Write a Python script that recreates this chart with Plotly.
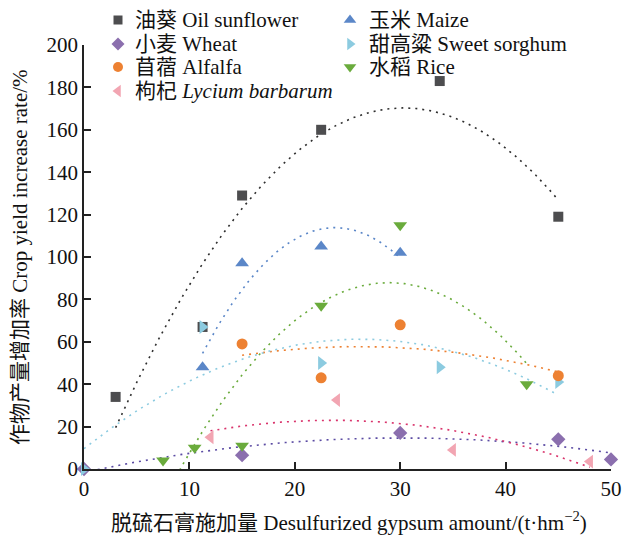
import numpy as np
import plotly.graph_objects as go

# Gypsum dose (t/hm2) and crop yield increase (%) per crop
sunflower_x = [3, 11.25, 15, 22.5, 33.75, 45]
sunflower_y = [34, 67, 129, 160, 183, 119]
maize_x = [11.25, 15, 22.5, 30]
maize_y = [48, 97, 105, 102]
wheat_x = [0, 15, 30, 45, 50]
wheat_y = [0, 6.5, 17, 14, 4.5]
sorghum_x = [0, 11.25, 22.5, 33.75, 45]
sorghum_y = [0, 67, 50, 48, 41]
alfalfa_x = [15, 22.5, 30, 45]
alfalfa_y = [59, 43, 68, 44]
rice_x = [7.5, 10.5, 15, 22.5, 30, 42]
rice_y = [4, 10, 11, 77, 115, 40]
lycium_x = [12, 24, 35, 48]
lycium_y = [15, 32.5, 9, 3.5]

x_ticks = [0, 10, 20, 30, 40, 50]
y_ticks = [0, 20, 40, 60, 80, 100, 120, 140, 160, 180, 200]

SERIF = "Liberation Serif, 'Times New Roman', 'Noto Sans CJK SC', serif"
FS = 21
W, H = 622, 536

# name, x, y, symbol, marker colour, trend colour, key column, key row
series = [
    ("油葵 Oil sunflower", sunflower_x, sunflower_y, "square", "#4d4d4f", "#2e2e2e", 0, 0),
    ("小麦 Wheat", wheat_x, wheat_y, "diamond", "#8b6fae", "#5b4ba3", 0, 1),
    ("苜蓿 Alfalfa", alfalfa_x, alfalfa_y, "circle", "#ed8132", "#ed8132", 0, 2),
    ("枸杞 <i>Lycium barbarum</i>", lycium_x, lycium_y, "triangle-left", "#f2a5b2", "#d9336b", 0, 3),
    ("玉米 Maize", maize_x, maize_y, "triangle-up", "#5b87c8", "#5b87c8", 1, 0),
    ("甜高粱 Sweet sorghum", sorghum_x, sorghum_y, "triangle-right", "#8ccbe0", "#8ccbe0", 1, 1),
    ("水稻 Rice", rice_x, rice_y, "triangle-down", "#6aab3c", "#6aab3c", 1, 2),
]
sizes = {"square": 10, "diamond": 11, "circle": 11}
TRI = 12

fig = go.Figure()

# Quadratic trend lines (dotted), fitted over each series' dose range
for name, xs, ys, sym, mc, tc, col, row in series:
    coef = np.polyfit(xs, ys, 2)
    xf = np.linspace(min(xs), max(xs), 200)
    fig.add_trace(go.Scatter(
        x=xf, y=np.polyval(coef, xf), mode="lines",
        line=dict(color=tc, width=1.6, dash="2px,5px"),
        hoverinfo="skip", showlegend=False,
    ))

# Observed points
order = [0, 4, 1, 5, 2, 6, 3]
for i in order:
    name, xs, ys, sym, mc, tc, col, row = series[i]
    fig.add_trace(go.Scatter(
        x=xs, y=ys, mode="markers", name=name,
        marker=dict(symbol=sym, size=sizes.get(sym, TRI), color=mc),
        cliponaxis=False, showlegend=False,
    ))

# Plot area in pixels; a full-page axis pair (x3/y3) uses pixel units
PLOT_L, PLOT_R, PLOT_T, PLOT_B = 84, 611, 45, 469

# Key: two columns of marker + label
col_marker = [118, 350]
col_text = [133, 367]
row_y = [20, 44, 67, 91]
for name, xs, ys, sym, mc, tc, col, row in series:
    fig.add_trace(go.Scatter(
        x=[col_marker[col]], y=[row_y[row]], mode="markers",
        marker=dict(symbol=sym, size=sizes.get(sym, TRI) - 1, color=mc),
        xaxis="x3", yaxis="y3", cliponaxis=False,
        hoverinfo="skip", showlegend=False,
    ))
    fig.add_annotation(
        x=col_text[col], y=row_y[row], xref="x3", yref="y3",
        text=name, showarrow=False, xanchor="left", yanchor="middle",
        font=dict(family=SERIF, size=FS, color="#111"),
    )

fig.add_annotation(
    x=349, y=521, xref="x3", yref="y3",
    text="脱硫石膏施加量 Desulfurized gypsum amount/(t·hm<sup>−2</sup>)",
    showarrow=False, xanchor="center", yanchor="middle",
    font=dict(family=SERIF, size=FS, color="#111"),
)
fig.add_annotation(
    x=20, y=257, xref="x3", yref="y3",
    text="作物产量增加率 Crop yield increase rate/%", textangle=-90,
    showarrow=False, xanchor="center", yanchor="middle",
    font=dict(family=SERIF, size=FS, color="#111"),
)

axis_common = dict(
    showgrid=False, zeroline=False, showline=True, linecolor="#222",
    linewidth=1.5, ticks="inside", ticklen=7, tickwidth=1.5, tickcolor="#222",
    tickfont=dict(family=SERIF, size=FS, color="#111"), automargin=False,
)
fig.update_layout(
    width=W, height=H,
    margin=dict(l=0, r=0, t=0, b=0, autoexpand=False),
    plot_bgcolor="rgba(0,0,0,0)", paper_bgcolor="white",
    xaxis=dict(range=[0, 50], tickvals=x_ticks,
               domain=[PLOT_L / W, PLOT_R / W], **axis_common),
    yaxis=dict(range=[0, 200], tickvals=y_ticks,
               domain=[(H - PLOT_B) / H, (H - PLOT_T) / H], **axis_common),
    xaxis3=dict(range=[0, W], domain=[0, 1], visible=False, fixedrange=True,
                anchor="y3", automargin=False),
    yaxis3=dict(range=[H, 0], domain=[0, 1], visible=False, fixedrange=True,
                anchor="x3", automargin=False),
    showlegend=False,
)

fig.write_html("out.html")
